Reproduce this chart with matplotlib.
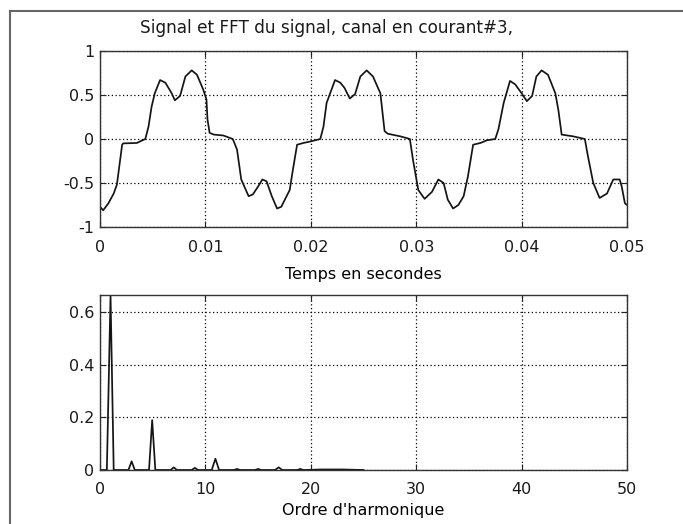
import numpy as np
import matplotlib
matplotlib.use('Agg')
import matplotlib.pyplot as plt
from matplotlib.lines import Line2D

plt.rcParams['font.family'] = ['DejaVu Sans']
plt.rcParams['font.size'] = 11.5

# signal, time in seconds
t = [0, 0.0003, 0.0008, 0.0013, 0.0016, 0.0017, 0.0021, 0.0022, 0.0035, 0.0043,
     0.0046, 0.0049, 0.0052, 0.0057, 0.0062, 0.0068, 0.0071, 0.0076, 0.0081, 0.0087,
     0.0092, 0.0098, 0.0101, 0.0102, 0.0104, 0.0108, 0.0117, 0.0126, 0.0130, 0.0134,
     0.0141, 0.0145, 0.0150, 0.0154, 0.0158, 0.0163, 0.0168, 0.0172, 0.0177, 0.0180,
     0.0183, 0.0187, 0.0193, 0.0199, 0.0209, 0.0212, 0.0215, 0.0223,
     0.0228, 0.0232, 0.0237, 0.0242, 0.0247, 0.0253, 0.0259, 0.0266, 0.0270, 0.0273,
     0.0285, 0.0294, 0.0297, 0.0302, 0.0308, 0.0315, 0.0321, 0.0326, 0.0330, 0.0335,
     0.0340, 0.0345, 0.0349, 0.0354, 0.0361, 0.0367, 0.0375, 0.0378, 0.0383, 0.0389,
     0.0394, 0.0400, 0.0405, 0.0410, 0.0414, 0.0419, 0.0425, 0.0432, 0.0435, 0.0438,
     0.0449, 0.0460, 0.0463, 0.0468, 0.0474, 0.0481, 0.0487, 0.0493, 0.0495, 0.0498,
     0.0500]
sig = [-0.77, -0.81, -0.73, -0.62, -0.52, -0.43, -0.065, -0.05, -0.045, 0,
       0.14, 0.37, 0.52, 0.67, 0.64, 0.52, 0.44, 0.49, 0.71, 0.78,
       0.73, 0.56, 0.45, 0.22, 0.07, 0.05, 0.04, 0, -0.12, -0.46,
       -0.65, -0.63, -0.54, -0.46, -0.48, -0.65, -0.79, -0.77, -0.65, -0.58,
       -0.35, -0.065, -0.045, -0.03, 0, 0.14, 0.41, 0.67,
       0.64, 0.58, 0.46, 0.51, 0.71, 0.78, 0.71, 0.52, 0.09, 0.06,
       0.03, 0, -0.24, -0.58, -0.68, -0.60, -0.46, -0.50, -0.69, -0.79,
       -0.75, -0.65, -0.43, -0.065, -0.045, -0.015, 0, 0.11, 0.41, 0.66,
       0.62, 0.52, 0.43, 0.49, 0.71, 0.78, 0.73, 0.52, 0.32, 0.05,
       0.03, 0, -0.20, -0.50, -0.67, -0.62, -0.46, -0.46, -0.54, -0.73,
       -0.75]

# FFT magnitude vs harmonic order
harm = [0, 0.65, 1.0, 1.3, 2.7, 3.0, 3.3, 4.65, 4.95, 5.25, 6.7, 7.0, 7.3,
        8.7, 9.0, 9.3, 10.6, 10.95, 11.3, 12.7, 13.0, 13.3, 14.7, 15.0, 15.3,
        16.6, 16.95, 17.3, 18.7, 19.0, 19.3, 21.0, 23.0, 25.0]
amp = [0, 0, 0.666, 0, 0, 0.033, 0, 0, 0.19, 0, 0, 0.01, 0,
       0, 0.008, 0, 0, 0.043, 0, 0, 0.004, 0, 0, 0.004, 0,
       0, 0.01, 0, 0, 0.004, 0, 0.002, 0.002, 0]

fig = plt.figure(figsize=(6.83, 5.24), dpi=100)
W, H = 683, 524

def px_axes(l, t_, r, b):
    return fig.add_axes([l / W, 1 - b / H, (r - l) / W, (b - t_) / H])

ax1 = px_axes(100, 51, 627, 227)
ax2 = px_axes(100, 295, 627, 470)

ax1.plot(t, sig, color='#151515', lw=1.25)
ax1.set_xlim(0, 0.05)
ax1.set_ylim(-1, 1)
ax1.set_xticks([0, 0.01, 0.02, 0.03, 0.04, 0.05])
ax1.set_xticklabels(['0', '0.01', '0.02', '0.03', '0.04', '0.05'])
ax1.set_yticks([-1, -0.5, 0, 0.5, 1])
ax1.set_yticklabels(['-1', '-0.5', '0', '0.5', '1'])
ax1.set_xlabel('Temps en secondes', labelpad=9)

ax2.plot(harm, amp, color='#151515', lw=1.25)
ax2.set_xlim(0, 50)
ax2.set_ylim(0, 0.666)
ax2.set_xticks([0, 10, 20, 30, 40, 50])
ax2.set_yticks([0, 0.2, 0.4, 0.6])
ax2.set_yticklabels(['0', '0.2', '0.4', '0.6'])
ax2.set_xlabel("Ordre d'harmonique", labelpad=4)

for ax in (ax1, ax2):
    ax.grid(True, color='black', linestyle=(0, (1, 2)), linewidth=0.9)
    ax.tick_params(direction='in', length=4, width=0.8, top=True, right=True,
                   colors='#222222', labelcolor='#1a1a1a')
    ax.tick_params(axis='x', pad=9)
    ax.tick_params(axis='y', pad=4)
    for s in ax.spines.values():
        s.set_color('#333333')
        s.set_linewidth(1.0)

fig.text(326 / W, 1 - 33 / H, 'Signal et FFT du signal, canal en courant#3,',
         ha='center', va='baseline', color='#1a1a1a', fontsize=12.2)

# outer frame (cropped at right and bottom)
fig.add_artist(Line2D([10 / W, 10 / W], [0, 1 - 11 / H], color='#666666', lw=1.5))
fig.add_artist(Line2D([10 / W, 1], [1 - 11 / H, 1 - 11 / H], color='#666666', lw=1.5))

plt.savefig('out.png', dpi=100)
